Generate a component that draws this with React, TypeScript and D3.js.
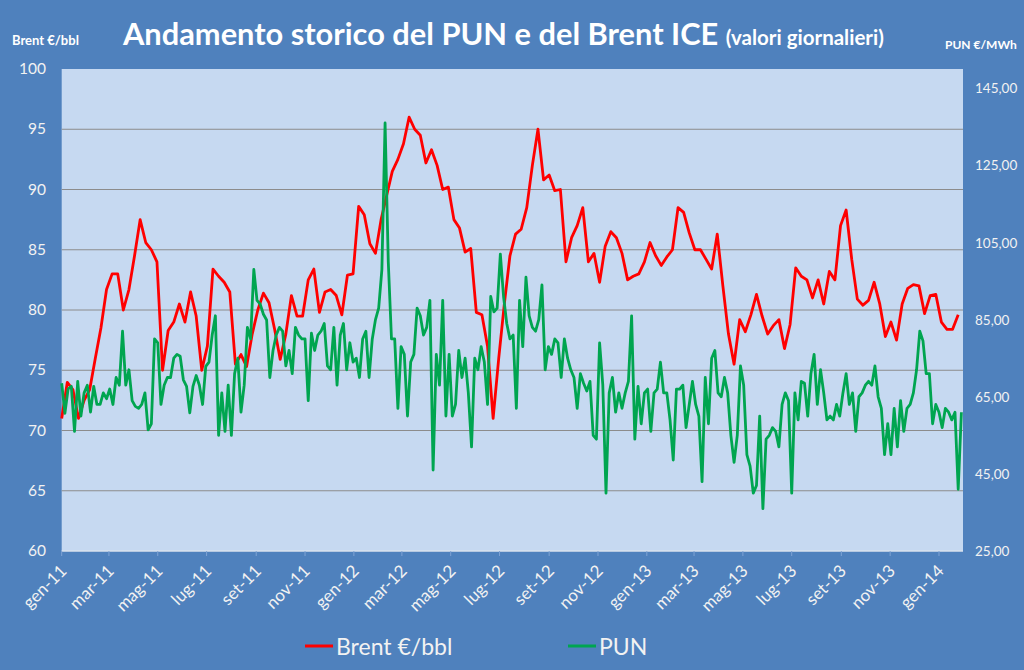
import { useEffect, useRef } from 'react';
import * as d3 from 'd3';

// Brent ICE, €/bbl, one reading per week from 1 Jan 2011
const brentValues = [
  71, 74, 73.4, 71, 72.5, 73.4, 76, 78.5, 81.7, 83,
  83, 80, 81.7, 84.5, 87.5, 85.6, 85, 84, 75, 78.3,
  79, 80.5, 79, 81.5, 79.5, 75, 77, 83.4, 82.8, 82.3,
  81.5, 75.5, 76.3, 75.3, 78, 80, 81.4, 80.6, 78.4, 75.9,
  78, 81.2, 79.5, 79.5, 82.5, 83.4, 79.8, 81.5, 81.7, 81.2,
  79.6, 82.9, 83, 88.6, 87.9, 85.5, 84.7, 87.5, 89.5, 91.5,
  92.5, 93.8, 96, 95, 94.5, 92.2, 93.3, 92, 90, 90.2,
  87.5, 86.8, 84.8, 85.1, 79.8, 79.6, 77, 71, 76, 80.5,
  84.5, 86.3, 86.7, 88.5, 92, 95, 90.8, 91.2, 89.9, 90,
  84, 86, 87, 88.5, 84, 84.7, 82.3, 85.3, 86.5, 86,
  84.7, 82.5, 82.8, 83, 84, 85.6, 84.5, 83.7, 84.4, 85,
  88.5, 88.1, 86.4, 85, 85, 84.2, 83.4, 86.3, 82, 78,
  75.5, 79.2, 78.2, 79.6, 81.3, 79.5, 78, 78.7, 79.2, 76.8,
  78.8, 83.5, 82.8, 82.5, 81, 82.5, 80.5, 83.2, 82.5, 87,
  88.3, 84.2, 80.9, 80.4, 80.8, 82.3, 80.5, 77.8, 79, 77.5,
  80.5, 81.8, 82.1, 82, 79.7, 81.2, 81.3, 79, 78.4, 78.4,
  79.6,
];

// PUN, €/MWh, one reading every 4 days from 1 Jan 2011
const punValues = [
  68.5, 60.7, 67, 67.7, 56, 69, 60, 66, 68, 61,
  67.7, 63, 63, 66, 64.5, 67, 63, 70, 68, 82,
  68, 72, 64, 62.5, 62, 63, 66, 56.4, 58, 80,
  79, 63, 68, 70, 70, 75, 76, 75.5, 69.4, 67.7,
  60.8, 67.7, 70.5, 68, 63, 72.9, 74, 81,
  86, 55, 66, 56, 68, 55, 71, 75, 61, 68,
  83, 80, 98, 90, 89, 86.4, 84.9, 70, 77, 81,
  83, 82, 73, 77, 71, 83, 81, 80, 80, 64,
  81.5, 77, 81, 82, 84, 73, 72, 83, 68, 81,
  84, 72, 79, 74, 75, 70, 80,
  82, 70, 80, 85, 88, 98, 136, 100, 80, 80,
  62, 78, 76, 60, 74, 76, 88, 86, 81, 83,
  90, 46, 76, 68, 90, 60, 76, 60, 63, 77,
  70, 75, 66, 52, 75, 72, 78, 74, 63, 91,
  87, 88, 102, 91, 84, 80, 81,
  62, 90, 78, 96, 86, 83, 82, 85, 94, 72,
  78, 76, 80, 79, 70, 80, 75, 72, 70, 62,
  71, 68.5, 66.5, 69, 55, 54, 79, 68, 40, 66,
  70, 61, 66, 62, 66, 69, 86, 54, 67.7, 58,
  66, 67, 56, 66, 67, 74, 66,
  66, 59, 48.6, 67, 67, 68, 57, 63, 69, 63,
  60, 43, 70, 58, 75, 77, 66, 65, 70, 66,
  55, 48, 55, 73, 68, 50, 47, 40, 42, 60,
  36, 54, 55, 57, 56, 52, 63, 66, 64, 40,
  66, 59, 69, 68.5, 60, 71, 76,
  63, 72, 66, 59, 60, 59, 63, 60, 66, 71,
  63, 66, 56, 65, 66, 68, 69, 68, 73, 65,
  62, 50, 58, 50, 62, 52, 64, 56, 62, 63,
  66, 72, 82, 79.5, 71, 71, 58, 63, 61, 57,
  62, 61, 59, 61, 41, 61,
];

const monthNames = ['gen', 'feb', 'mar', 'apr', 'mag', 'giu', 'lug', 'ago', 'set', 'ott', 'nov', 'dic'];
const leftTicks = [60, 65, 70, 75, 80, 85, 90, 95, 100];
const rightTicks = [25, 45, 65, 85, 105, 125, 145];

const startDate = new Date(2011, 0, 1);
const endDate = new Date(2014, 0, 31);
const brentStepDays = 7;
const punStepDays = 4;

const App = () => {
  const svgRef = useRef(null);
  const width = 1024;
  const height = 670;
  const plot = { left: 61.7, right: 963, top: 69, bottom: 551 };
  const font = 'Lato, "Open Sans", sans-serif';

  useEffect(() => {
    const svg = d3.select(svgRef.current);
    svg.selectAll('*').remove();

    svg.append('rect').attr('width', width).attr('height', height).attr('fill', '#4F81BD');

    const xScale = d3.scaleTime().domain([startDate, endDate]).range([plot.left, plot.right]);
    const yLeft = d3.scaleLinear().domain([60, 100]).range([plot.bottom, plot.top]);
    const yRight = d3.scaleLinear().domain([25, 150]).range([plot.bottom, plot.top]);

    svg.append('rect')
      .attr('x', plot.left)
      .attr('y', plot.top)
      .attr('width', plot.right - plot.left)
      .attr('height', plot.bottom - plot.top)
      .attr('fill', '#C6D9F1');

    // gridlines from the left axis
    svg.append('g')
      .selectAll('line')
      .data(leftTicks.filter(t => t > 60 && t < 100))
      .join('line')
      .attr('x1', plot.left)
      .attr('x2', plot.right)
      .attr('y1', d => yLeft(d))
      .attr('y2', d => yLeft(d))
      .attr('stroke', '#8C8C8C')
      .attr('stroke-width', 1);

    svg.append('line')
      .attr('x1', plot.left)
      .attr('x2', plot.right)
      .attr('y1', plot.bottom)
      .attr('y2', plot.bottom)
      .attr('stroke', '#D9E2EE')
      .attr('stroke-width', 1.5);

    const brentData = brentValues.map((v, i) => ({ date: d3.timeDay.offset(startDate, i * brentStepDays), value: v }));
    const punData = punValues.map((v, i) => ({ date: d3.timeDay.offset(startDate, i * punStepDays), value: v }));

    const brentLine = d3.line()
      .x(d => xScale(d.date))
      .y(d => yLeft(d.value));
    const punLine = d3.line()
      .x(d => xScale(d.date))
      .y(d => yRight(d.value));

    svg.append('path')
      .datum(brentData)
      .attr('d', brentLine)
      .attr('fill', 'none')
      .attr('stroke', '#FF0000')
      .attr('stroke-width', 2.8)
      .attr('stroke-linejoin', 'round');

    svg.append('path')
      .datum(punData)
      .attr('d', punLine)
      .attr('fill', 'none')
      .attr('stroke', '#00A550')
      .attr('stroke-width', 2.8)
      .attr('stroke-linejoin', 'round');

    // x axis: every two months
    const tickDates = d3.timeMonth.every(2).range(startDate, d3.timeDay.offset(endDate, 1));
    const xAxis = svg.append('g');
    xAxis.selectAll('line')
      .data(tickDates)
      .join('line')
      .attr('x1', d => xScale(d))
      .attr('x2', d => xScale(d))
      .attr('y1', plot.bottom)
      .attr('y2', plot.bottom + 5)
      .attr('stroke', '#7FA3D4')
      .attr('stroke-width', 1);
    xAxis.selectAll('text')
      .data(tickDates)
      .join('text')
      .attr('transform', d => `translate(${xScale(d) + 6}, 572) rotate(-45)`)
      .attr('text-anchor', 'end')
      .attr('fill', '#F2F2F2')
      .style('font-family', font)
      .style('font-size', '17px')
      .text(d => `${monthNames[d.getMonth()]}-${String(d.getFullYear()).slice(2)}`);

    // left axis
    svg.append('g')
      .selectAll('text')
      .data(leftTicks)
      .join('text')
      .attr('x', 46)
      .attr('y', d => yLeft(d) + 5)
      .attr('text-anchor', 'end')
      .attr('fill', '#F2F2F2')
      .style('font-family', font)
      .style('font-size', '15.5px')
      .text(d => d);

    // right axis
    svg.append('g')
      .selectAll('text')
      .data(rightTicks)
      .join('text')
      .attr('x', 975)
      .attr('y', d => yRight(d) + 5)
      .attr('fill', '#F2F2F2')
      .style('font-family', font)
      .style('font-size', '13.5px')
      .text(d => d3.format('.2f')(d).replace('.', ','));

    svg.append('text')
      .attr('x', 12)
      .attr('y', 45)
      .attr('fill', '#FFFFFF')
      .style('font-family', font)
      .style('font-weight', 'bold')
      .style('font-size', '13px')
      .text('Brent €/bbl');

    svg.append('text')
      .attr('x', 945)
      .attr('y', 49)
      .attr('fill', '#FFFFFF')
      .style('font-family', font)
      .style('font-weight', 'bold')
      .style('font-size', '12px')
      .text('PUN €/MWh');

    const title = svg.append('text')
      .attr('x', 123)
      .attr('y', 45)
      .attr('fill', '#FFFFFF')
      .style('font-family', font)
      .style('font-weight', 'bold');
    title.append('tspan').style('font-size', '30.8px').text('Andamento storico del PUN e del Brent ICE ');
    title.append('tspan').style('font-size', '20.5px').text('(valori giornalieri)');

    // legend
    const legend = [
      { label: 'Brent €/bbl', color: '#FF0000', x: 305 },
      { label: 'PUN', color: '#00A550', x: 568 },
    ];
    const lg = svg.append('g');
    lg.selectAll('line')
      .data(legend)
      .join('line')
      .attr('x1', d => d.x)
      .attr('x2', d => d.x + 28)
      .attr('y1', 646)
      .attr('y2', 646)
      .attr('stroke', d => d.color)
      .attr('stroke-width', 3);
    lg.selectAll('text')
      .data(legend)
      .join('text')
      .attr('x', d => d.x + 31)
      .attr('y', 655)
      .attr('fill', '#F2F2F2')
      .style('font-family', font)
      .style('font-size', '23px')
      .text(d => d.label);
  }, []);

  return (
    <div style={{ position: 'absolute', left: 0, top: 0 }}>
      <svg ref={svgRef} width={width} height={height} style={{ display: 'block' }}></svg>
    </div>
  );
};

export default App;
